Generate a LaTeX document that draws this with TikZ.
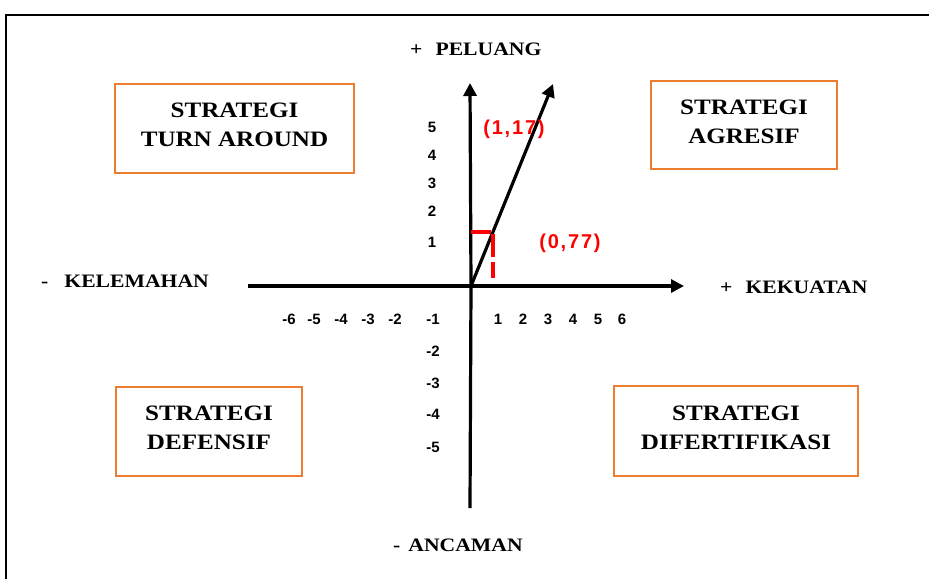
\documentclass[tikz,border=0pt]{standalone}
\usepackage{fontspec}
\setmainfont{Liberation Sans}
\newfontfamily\bkfont[FakeStretch=1.14]{Liberation Serif}
\newfontfamily\redfont[LetterSpace=9]{Liberation Sans}
\usetikzlibrary{arrows.meta}
\definecolor{boxorange}{RGB}{237,125,49}
\definecolor{lblred}{RGB}{255,0,0}
\tikzset{
  axis/.style={line width=3.2pt,-{Triangle[length=13pt,width=13pt]}},
  stratbox/.style={draw=boxorange,line width=2pt,inner sep=0pt},
  boxtext/.style={align=center,inner sep=0pt,yshift=3.5pt,
    font=\bkfont\bfseries\fontsize{22}{29}\selectfont},
  num/.style={font=\bfseries\fontsize{15}{15}\selectfont,inner sep=0pt},
  redlbl/.style={text=lblred,font=\redfont\bfseries\fontsize{20}{20}\selectfont,inner sep=0pt},
  axlbl/.style={font=\bkfont\bfseries\fontsize{19}{19}\selectfont,inner sep=0pt,anchor=west},
  redmark/.style={draw=lblred,line width=4pt}
}
\begin{document}
\begin{tikzpicture}[x=1pt,y=-1pt]
\useasboundingbox (0,0) rectangle (929,579);
% frame
\draw[line width=2pt] (6,579) -- (6,15) -- (929,15);
% axes
\coordinate (O) at (471,286);
\coordinate (xl) at (248,286);
\coordinate (xr) at (684,286);
\coordinate (yb) at (470,508);
\coordinate (yt) at (470,83);
\coordinate (dt) at (553,84);
\draw[line width=3.2pt] (xl) -- (O);
\draw[axis] (O) -- (xr);
\draw[line width=3.2pt] (yb) -- (O);
\draw[axis] (O) -- (yt);
\draw[axis] (O) -- (dt);
% red marks
\coordinate (rh1) at (471,232);
\coordinate (rh2) at (491,232);
\coordinate (rv1) at (493,234);
\coordinate (rv2) at (493,278);
\draw[redmark] (rh1) -- (rh2);
\draw[redmark,dash pattern=on 23pt off 5pt] (rv1) -- (rv2);
\node[redlbl] (l117) at (514,129) {(1,17)};
\node[redlbl] (l077) at (570,243) {(0,77)};
% y numbers
\node[num] (y5) at (432,127) {5};
\node[num] (y4) at (432,155) {4};
\node[num] (y3) at (432,183) {3};
\node[num] (y2) at (432,211) {2};
\node[num] (y1) at (432,242) {1};
\node[num] (ym1) at (433,319) {-1};
\node[num] (ym2) at (433,351) {-2};
\node[num] (ym3) at (433,383) {-3};
\node[num] (ym4) at (433,414) {-4};
\node[num] (ym5) at (433,447) {-5};
% x numbers
\node[num] (xm6) at (289,319) {-6};
\node[num] (xm5) at (314,319) {-5};
\node[num] (xm4) at (341,319) {-4};
\node[num] (xm3) at (368,319) {-3};
\node[num] (xm2) at (395,319) {-2};
\node[num] (x1) at (498,319) {1};
\node[num] (x2) at (523,319) {2};
\node[num] (x3) at (548,319) {3};
\node[num] (x4) at (573,319) {4};
\node[num] (x5) at (598,319) {5};
\node[num] (x6) at (622,319) {6};
% axis labels
\node[axlbl] (peluang) at (410,49) {+\hspace{13pt}PELUANG};
\node[axlbl] (kelemahan) at (41,281) {-\hspace{16pt}KELEMAHAN};
\node[axlbl] (kekuatan) at (720,287) {+\hspace{13pt}KEKUATAN};
\node[axlbl] (ancaman) at (393,545) {-\hspace{8pt}ANCAMAN};
% strategy boxes
\node[stratbox,minimum width=239pt,minimum height=89pt,
  label={[boxtext]center:{STRATEGI\\TURN AROUND}}] (turn) at (234.5,128.5) {};
\node[stratbox,minimum width=186pt,minimum height=88pt,
  label={[boxtext]center:{STRATEGI\\AGRESIF}}] (agresif) at (744,125) {};
\node[stratbox,minimum width=186pt,minimum height=89pt,
  label={[boxtext]center:{STRATEGI\\DEFENSIF}}] (defensif) at (209,431.5) {};
\node[stratbox,minimum width=244pt,minimum height=90pt,
  label={[boxtext]center:{STRATEGI\\DIFERTIFIKASI}}] (difert) at (736,431) {};
\end{tikzpicture}
\end{document}
